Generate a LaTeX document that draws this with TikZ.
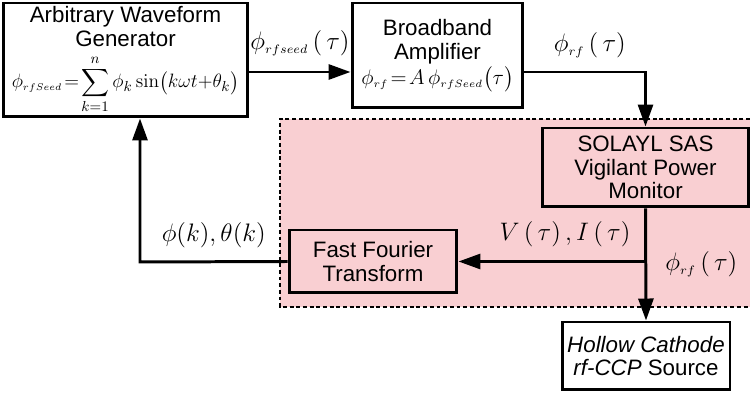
\documentclass[tikz,border=0pt]{standalone}
\usepackage[no-math]{fontspec}
\setmainfont{Liberation Sans}
\usepackage{amsmath}
\usepackage{graphicx}
\usetikzlibrary{arrows.meta}

\definecolor{monpink}{RGB}{249,207,210}
\newcommand{\sbs}[1]{_{\scriptscriptstyle #1}}

\begin{document}
\begin{tikzpicture}[x=0.02cm, y=-0.02cm,
    blk/.style={draw, line width=1.7pt, align=center, inner sep=1pt,
                font=\fontsize{12.7}{13.5}\selectfont},
    arr/.style={line width=1.7pt, -{Triangle[length=0.44cm,width=0.3cm]}},
    lbl/.style={font=\fontsize{14}{15}\selectfont}]
      \useasboundingbox (0,0) rectangle (750,394);
      % monitor region
      \fill[monpink] (280,119) rectangle (750,307);
      \draw[line width=1.1pt, dash pattern=on 2.2pt off 1.6pt] (750,119) -- (280,119) -- (280,307) -- (750,307);
      % blocks
      \node[blk, minimum width=4.9cm, minimum height=2.28cm] (awg) at (125.5,60)
           {Arbitrary Waveform\\Generator\\[4pt]
            \resizebox{4.55cm}{!}{$\displaystyle \phi\sbs{rfSeed}\!=\!\sum_{k=1}^{n}\phi_k\sin\bigl(k\omega t{+}\theta_k\bigr)$}};
      \node[blk, minimum width=3.42cm, minimum height=2.1cm] (ba) at (437.5,55.5)
           {Broadband\\Amplifier\\[1pt]\resizebox{3.05cm}{!}{$\phi\sbs{rf}\!=\!A\,\phi\sbs{rfSeed}\bigl(\tau\bigr)$}};
      \node[blk, fill=monpink, minimum width=4.14cm, minimum height=1.58cm] (vpm) at (645.5,167.5)
           {SOLAYL SAS\\Vigilant Power\\Monitor};
      \node[blk, fill=monpink, minimum width=3.36cm, minimum height=1.26cm] (fft) at (373,261.5)
           {Fast Fourier\\Transform};
      \node[blk, fill=white, minimum width=3.36cm, minimum height=1.36cm] (hc) at (646,356)
           {\textit{Hollow Cathode}\\\textit{rf-CCP} Source};
      \coordinate (seed) at (300,72);
      \coordinate (fb) at (140,262);
      % signal path
      \draw[arr] (awg.east |- seed) -- (ba.west |- seed) node[lbl, midway, above=5pt] {$\phi\sbs{rfseed}\left(\,\tau\right)$};
      \draw[arr] (ba.east |- seed) -| (vpm.north) node[lbl, pos=0.27, above=4pt] {$\phi\sbs{rf}\left(\,\tau\right)$};
      \draw[arr] (vpm.south) -- (hc.north) node[lbl, midway, right=7pt] {$\phi\sbs{rf}\left(\,\tau\right)$};
      \draw[arr] (vpm.south |- fft.east) -- (fft.east) node[lbl, pos=0.43, above=4pt] {$V\left(\,\tau\right),I\left(\,\tau\right)$};
      \draw[arr] (fft.west) -- node[lbl, above=4pt] {$\phi(k),\theta(k)$} (fb) -- (fb |- awg.south);
    \end{tikzpicture}
\end{document}
